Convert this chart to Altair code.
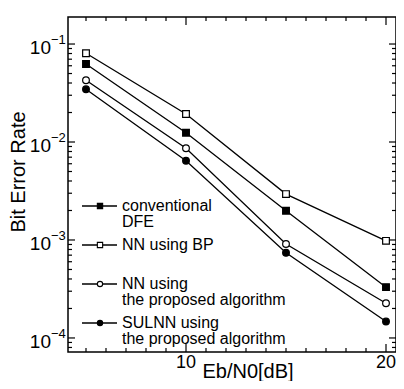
import math
import altair as alt
import pandas as pd

# ---------------- data ----------------
ebn0 = [5, 10, 15, 20]
series_names = ["conventional DFE", "NN using BP",
                "NN using the proposed algorithm", "SULNN using the proposed algorithm"]
legend_labels = ["conventional\nDFE", "NN using BP",
                 "NN using\nthe proposed algorithm", "SULNN using\nthe proposed algorithm"]
ber_dfe = [0.0625, 0.01245, 0.00199, 0.00033]
ber_bp = [0.0804, 0.0193, 0.00294, 0.00098]
ber_nn = [0.0427, 0.00863, 0.00091, 0.000226]
ber_sulnn = [0.0345, 0.00644, 0.00074, 0.000147]
marker_shapes = ["square", "square", "circle", "circle"]
marker_fills = ["black", "white", "white", "black"]

x_domain = [4.1, 20.5]
y_domain = [7.19e-5, 0.1887]
x_major = [10, 20]
x_minor = [v for v in range(5, 21) if v not in x_major]
y_major = [1e-4, 1e-3, 1e-2, 1e-1]
y_minor = [m * 10 ** k for k in range(-5, 0) for m in range(2, 10)
           if y_domain[0] <= m * 10 ** k <= y_domain[1]]

W, H = 328, 335
FONT = "Liberation Sans"

rows = []
for name, vals in zip(series_names, [ber_dfe, ber_bp, ber_nn, ber_sulnn]):
    for x, y in zip(ebn0, vals):
        rows.append({"series": name, "ebn0": x, "ber": y})
df = pd.DataFrame(rows)

xs = alt.Scale(domain=x_domain, nice=False, zero=False)
ys = alt.Scale(type="log", domain=y_domain, nice=False)
shape_scale = alt.Scale(domain=series_names, range=marker_shapes)
fill_scale = alt.Scale(domain=series_names, range=marker_fills)

X = lambda f: alt.X(f"{f}:Q", scale=xs, axis=None)
Y = lambda f: alt.Y(f"{f}:Q", scale=ys, axis=None)

lines = alt.Chart(df).mark_line(color="black", strokeWidth=1.3).encode(
    x=X("ebn0"), y=Y("ber"), detail="series:N")

points = alt.Chart(df).mark_point(filled=True, stroke="black", strokeWidth=1.2,
                                  size=45, opacity=1).encode(
    x=X("ebn0"), y=Y("ber"),
    shape=alt.Shape("series:N", scale=shape_scale, legend=None),
    fill=alt.Fill("series:N", scale=fill_scale, legend=None))

# ---------------- inward ticks ----------------
def xticks(vals, length):
    d = pd.DataFrame({"v": vals})
    bot = alt.Chart(d).mark_rule(color="black", strokeWidth=1.2).encode(
        x=X("v"), y=alt.value(H), y2=alt.value(H - length))
    top = alt.Chart(d).mark_rule(color="black", strokeWidth=1.2).encode(
        x=X("v"), y=alt.value(0), y2=alt.value(length))
    return [bot, top]

def yticks(vals, length):
    d = pd.DataFrame({"v": vals})
    left = alt.Chart(d).mark_rule(color="black", strokeWidth=1.2).encode(
        y=Y("v"), x=alt.value(0), x2=alt.value(length))
    right = alt.Chart(d).mark_rule(color="black", strokeWidth=1.2).encode(
        y=Y("v"), x=alt.value(W), x2=alt.value(W - length))
    return [left, right]

ticks = xticks(x_major, 8) + xticks(x_minor, 4) + yticks(y_major, 7) + yticks(y_minor, 4)

# ---------------- tick labels ----------------
xl = pd.DataFrame({"v": x_major, "t": [str(v) for v in x_major]})
xlabels = alt.Chart(xl).mark_text(font=FONT, fontSize=18, align="center",
                                  baseline="alphabetic").encode(
    x=X("v"), y=alt.value(H + 16), text="t:N")

yl = pd.DataFrame({"v": y_major,
                   "exp": ["\u2212" + str(-int(round(math.log10(v)))) for v in y_major]})
ybase = alt.Chart(yl).mark_text(font=FONT, fontSize=19, align="right",
                                baseline="alphabetic", dy=10).encode(
    y=Y("v"), x=alt.value(-17), text=alt.value("10"))
yexp = alt.Chart(yl).mark_text(font=FONT, fontSize=13, align="left",
                               baseline="alphabetic", dy=0).encode(
    y=Y("v"), x=alt.value(-17), text="exp:N")

# ---------------- axis titles ----------------
xtitle = alt.Chart(pd.DataFrame({"t": ["Eb/N0[dB]"]})).mark_text(
    font=FONT, fontSize=20, align="center", baseline="alphabetic").encode(
    x=alt.value(180), y=alt.value(361), text="t:N")
ytitle = alt.Chart(pd.DataFrame({"t": ["Bit Error Rate"]})).mark_text(
    font=FONT, fontSize=20, align="center", baseline="alphabetic", angle=270).encode(
    x=alt.value(-43), y=alt.value(155), text="t:N")

# ---------------- legend (inside plot) ----------------
leg = pd.DataFrame({"series": series_names, "label": legend_labels,
                    "idx": list(range(len(series_names)))})
legbase = alt.Chart(leg).transform_calculate(ly="189 + 39*datum.idx")
leg_line = legbase.mark_rule(color="black", strokeWidth=1.3).encode(
    y=alt.Y("ly:Q", scale=None, axis=None), x=alt.value(14), x2=alt.value(49))
leg_pt = legbase.mark_point(filled=True, stroke="black", strokeWidth=1.1,
                            size=28, opacity=1).encode(
    y=alt.Y("ly:Q", scale=None, axis=None), x=alt.value(32),
    shape=alt.Shape("series:N", scale=shape_scale, legend=None),
    fill=alt.Fill("series:N", scale=fill_scale, legend=None))
leg_txt = legbase.mark_text(font=FONT, fontSize=16, align="left", baseline="middle",
                            lineBreak="\n", lineHeight=16).encode(
    y=alt.Y("ly:Q", scale=None, axis=None), x=alt.value(54), text="label:N")

chart = alt.layer(
    lines, points, *ticks, xlabels, ybase, yexp, xtitle, ytitle,
    leg_line, leg_pt, leg_txt
).properties(
    width=W, height=H,
    autosize=alt.AutoSizeParams(type="none"),
    padding={"left": 60, "top": 9, "right": 0, "bottom": 29},
).configure_view(stroke="black", strokeWidth=1.5)

chart.save("out.html", embed_options={"renderer": "svg", "actions": False})
